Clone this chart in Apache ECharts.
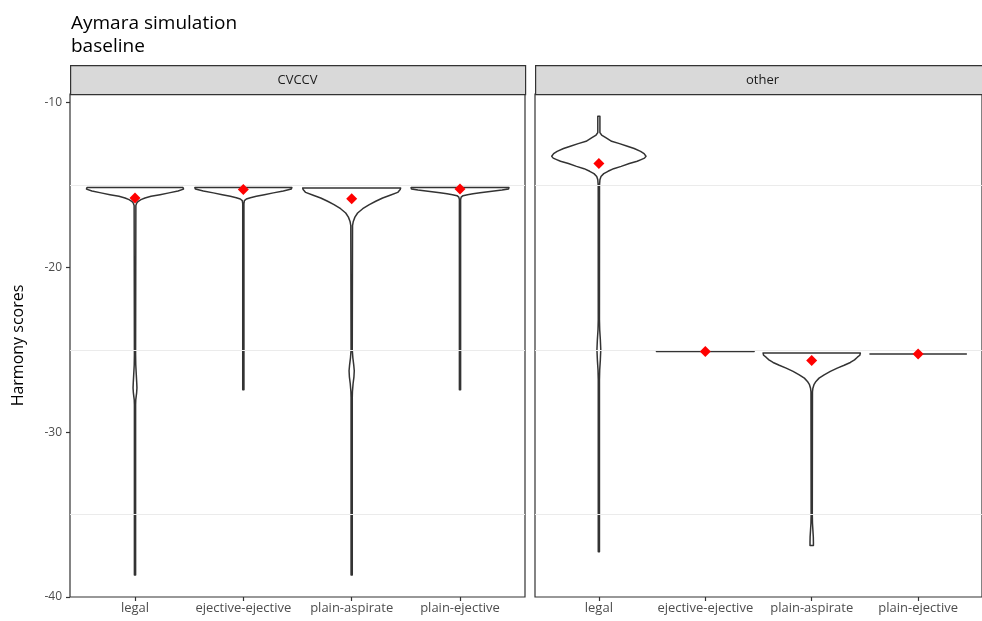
<!DOCTYPE html>
<html><head><meta charset="utf-8">
<script src="https://cdn.jsdelivr.net/npm/echarts@6/dist/echarts.min.js"></script>
<style>html,body{margin:0;padding:0;background:#fff}#c{width:982px;height:621px}</style>
</head><body><div id="c"></div>
<script>
// ---------- data ----------
const categories = ['legal', 'ejective-ejective', 'plain-aspirate', 'plain-ejective'];
const panels = ['CVCCV', 'other'];
const yTicks = [-40, -30, -20, -10];
const gridValues = [-15, -25, -35];

// Violin outlines: y values (Harmony score) and half-widths (category units)
const cvccvLegalY = [-15.16, -15.25, -15.37, -15.48, -15.59, -15.69, -15.79, -15.89, -15.99, -16.09, -16.25, -25.30, -25.91, -26.52, -27.00, -27.31, -27.61, -28.04, -28.34, -38.66];
const cvccvLegalW = [0.443, 0.448, 0.397, 0.314, 0.231, 0.148, 0.092, 0.055, 0.030, 0.016, 0.008, 0.0055, 0.007, 0.012, 0.016, 0.018, 0.015, 0.007, 0.0055, 0.0055];

const cvccvEjEjY = [-15.16, -15.25, -15.37, -15.48, -15.59, -15.69, -15.77, -15.85, -15.95, -16.13, -27.43];
const cvccvEjEjW = [0.448, 0.443, 0.369, 0.277, 0.194, 0.120, 0.065, 0.028, 0.010, 0.0055, 0.0055];

const cvccvPlAsY = [-15.18, -15.28, -15.45, -15.62, -15.79, -15.99, -16.19, -16.44, -16.70, -16.95, -17.21, -17.47, -25.00, -25.49, -25.91, -26.27, -26.64, -27.06, -27.55, -27.91, -38.66];
const cvccvPlAsW = [0.452, 0.448, 0.425, 0.355, 0.286, 0.222, 0.163, 0.102, 0.055, 0.030, 0.015, 0.008, 0.0055, 0.011, 0.019, 0.024, 0.021, 0.013, 0.007, 0.0055, 0.0055];

const cvccvPlEjY = [-15.16, -15.24, -15.31, -15.39, -15.47, -15.53, -15.59, -15.65, -15.74, -15.89, -27.43];
const cvccvPlEjW = [0.452, 0.448, 0.388, 0.277, 0.185, 0.120, 0.069, 0.028, 0.011, 0.0055, 0.0055];

const otherLegalY = [-10.83, -11.82, -11.97, -12.13, -12.35, -12.49, -12.65, -12.79, -12.96, -13.10, -13.26, -13.37, -13.46, -13.56, -13.70, -13.87, -14.01, -14.17, -14.31, -14.48, -14.68, -15.04, -23.18, -23.79, -24.39, -25.00, -25.61, -26.21, -26.82, -37.25];
const otherLegalW = [0.010, 0.010, 0.026, 0.065, 0.120, 0.194, 0.268, 0.332, 0.392, 0.425, 0.443, 0.429, 0.397, 0.360, 0.286, 0.210, 0.139, 0.086, 0.046, 0.020, 0.010, 0.006, 0.0055, 0.008, 0.014, 0.018, 0.014, 0.008, 0.0055, 0.0055];

const otherEjEjY = [-25.10, -25.10];
const otherEjEjW = [0.459, 0.459];

const otherPlAsY = [-25.20, -25.33, -25.45, -25.61, -25.77, -25.94, -26.11, -26.31, -26.52, -26.72, -26.92, -27.12, -27.33, -27.55, -35.02, -35.51, -35.93, -36.36, -36.66, -36.88];
const otherPlAsW = [0.457, 0.452, 0.429, 0.402, 0.363, 0.305, 0.240, 0.175, 0.117, 0.069, 0.040, 0.021, 0.011, 0.007, 0.0055, 0.007, 0.011, 0.015, 0.016, 0.016];

const otherPlEjY = [-25.26, -25.26];
const otherPlEjW = [0.453, 0.453];

const cvccvMeans = [-15.79, -15.28, -15.83, -15.24];
const otherMeans = [-13.70, -25.10, -25.65, -25.26];

// ---------- chart ----------
const FONT = '"Open Sans", "DejaVu Sans", sans-serif';
const violinY = [[cvccvLegalY, cvccvEjEjY, cvccvPlAsY, cvccvPlEjY], [otherLegalY, otherEjEjY, otherPlAsY, otherPlEjY]];
const violinW = [[cvccvLegalW, cvccvEjEjW, cvccvPlAsW, cvccvPlEjW], [otherLegalW, otherEjEjW, otherPlAsW, otherPlEjW]];
const means = [cvccvMeans, otherMeans];

const gridLeft = [70, 535];
const gridTop = 94, gridW = 455, gridH = 503;

const series = [];
[0, 1].forEach(g => {
  series.push({
    type: 'line', xAxisIndex: g, yAxisIndex: g, data: [], z: 1, silent: true,
    markLine: {
      silent: true, symbol: 'none', label: { show: false },
      lineStyle: { color: '#ebebeb', width: 1, type: 'solid' },
      data: gridValues.map(v => ({ yAxis: v }))
    }
  });
  series.push({
    type: 'custom', xAxisIndex: g, yAxisIndex: g, z: 3,
    data: categories.map((c, i) => [i + 1, means[g][i]]),
    encode: { x: 0, y: 1 },
    renderItem: function (params, api) {
      const i = params.dataIndex;
      const cx = api.value(0);
      const Y = violinY[g][i], W = violinW[g][i];
      const pts = [];
      for (let k = 0; k < Y.length; k++) pts.push(api.coord([cx + W[k], Y[k]]));
      for (let k = Y.length - 1; k >= 0; k--) pts.push(api.coord([cx - W[k], Y[k]]));
      return { type: 'polygon', shape: { points: pts }, style: { fill: '#fff', stroke: '#333', lineWidth: 1.5, lineJoin: 'round' } };
    }
  });
  series.push({
    type: 'scatter', xAxisIndex: g, yAxisIndex: g, z: 5,
    symbol: 'diamond', symbolSize: 11,
    itemStyle: { color: '#ff0000', opacity: 1 },
    data: categories.map((c, i) => [i + 1, means[g][i]])
  });
});

const option = {
  animation: false,
  backgroundColor: '#fff',
  title: {
    text: 'Aymara simulation\nbaseline', left: 66, top: 7,
    textStyle: { fontFamily: FONT, fontSize: 19, fontWeight: 'normal', color: '#000', lineHeight: 23 }
  },
  grid: [0, 1].map(g => ({
    left: gridLeft[g], top: gridTop, width: gridW, height: gridH,
    show: true, borderColor: '#333', borderWidth: 1.2, backgroundColor: '#fff', containLabel: false
  })),
  xAxis: [0, 1].map(g => ({
    type: 'value', gridIndex: g, min: 0.4, max: 4.6,
    axisLine: { show: false }, splitLine: { show: false },
    axisTick: { show: true, customValues: [1, 2, 3, 4], length: 4, lineStyle: { color: '#333', width: 1.2 } },
    axisLabel: { customValues: [1, 2, 3, 4], formatter: v => categories[Math.round(v) - 1], color: '#4d4d4d', fontSize: 13, margin: 5, fontFamily: FONT }
  })),
  yAxis: [0, 1].map(g => ({
    type: 'value', gridIndex: g, min: -40, max: -9.48,
    axisLine: { show: false }, splitLine: { show: false },
    axisTick: { show: g === 0, customValues: yTicks, length: 4, lineStyle: { color: '#333', width: 1.2 } },
    axisLabel: { show: g === 0, customValues: yTicks, formatter: v => String(v), color: '#4d4d4d', fontSize: 12, margin: 8, fontFamily: FONT },
    name: g === 0 ? 'Harmony scores' : '', nameLocation: 'middle', nameGap: 44,
    nameTextStyle: { fontFamily: FONT, fontSize: 16, color: '#000' }
  })),
  graphic: [0, 1].flatMap(g => [
    { type: 'rect', left: gridLeft[g], top: 65, z: 10,
      shape: { width: gridW, height: gridTop - 65 },
      style: { fill: '#d9d9d9', stroke: '#333', lineWidth: 1.2 } },
    { type: 'text', x: gridLeft[g] + gridW / 2, y: 80, z: 11,
      style: { text: panels[g], fill: '#1a1a1a', font: '13px ' + FONT, textAlign: 'center', textVerticalAlign: 'middle' } }
  ]),
  series: series
};

const chart = echarts.init(document.getElementById('c'), null, { renderer: 'canvas' });
chart.setOption(option);
</script>
</body></html>
